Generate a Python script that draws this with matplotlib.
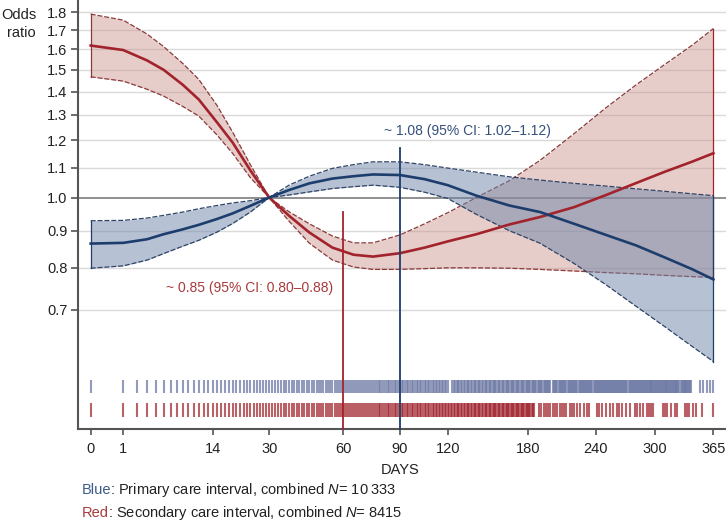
import numpy as np
import matplotlib
matplotlib.use('Agg')
import matplotlib.pyplot as plt

plt.rcParams['font.family'] = ['Liberation Sans', 'DejaVu Sans']
plt.rcParams['mathtext.fontset'] = 'custom'
plt.rcParams['mathtext.it'] = 'Liberation Sans:italic'
plt.rcParams['mathtext.rm'] = 'Liberation Sans'

# ========================== data ========================

days = [0, 1, 3, 5, 8, 11, 15, 19, 24, 30, 37, 45, 55, 65, 75, 90, 105, 120,
        140, 165, 190, 220, 250, 280, 310, 340, 365]

# primary care interval (blue): odds ratio and 95% CI
blue_or = [0.864, 0.866, 0.876, 0.890, 0.904, 0.917, 0.934, 0.951, 0.974, 1.000,
           1.024, 1.046, 1.062, 1.070, 1.076, 1.074, 1.060, 1.040, 1.006, 0.975,
           0.955, 0.920, 0.888, 0.859, 0.827, 0.797, 0.771]
blue_hi = [0.929, 0.930, 0.937, 0.945, 0.955, 0.965, 0.975, 0.983, 0.990, 1.000,
           1.040, 1.070, 1.097, 1.110, 1.120, 1.120, 1.110, 1.098, 1.084, 1.068,
           1.057, 1.046, 1.037, 1.028, 1.020, 1.012, 1.006]
blue_lo = [0.799, 0.805, 0.820, 0.837, 0.857, 0.873, 0.896, 0.921, 0.955, 1.000,
           1.008, 1.018, 1.029, 1.035, 1.040, 1.033, 1.017, 0.997, 0.948, 0.900,
           0.865, 0.811, 0.758, 0.708, 0.664, 0.624, 0.594]

# secondary care interval (red)
red_or = [1.620, 1.597, 1.545, 1.500, 1.430, 1.365, 1.270, 1.190, 1.090, 1.000,
          0.944, 0.895, 0.853, 0.834, 0.829, 0.838, 0.853, 0.870, 0.890, 0.918,
          0.940, 0.970, 1.008, 1.047, 1.085, 1.120, 1.151]
red_hi = [1.790, 1.756, 1.680, 1.615, 1.530, 1.455, 1.340, 1.230, 1.110, 1.000,
          0.956, 0.920, 0.885, 0.866, 0.866, 0.888, 0.920, 0.953, 1.000, 1.055,
          1.125, 1.225, 1.330, 1.430, 1.525, 1.620, 1.710]
red_lo = [1.467, 1.447, 1.410, 1.380, 1.335, 1.295, 1.220, 1.150, 1.065, 1.000,
          0.928, 0.865, 0.820, 0.802, 0.796, 0.796, 0.798, 0.800, 0.800, 0.799,
          0.796, 0.792, 0.788, 0.785, 0.781, 0.778, 0.776]

# observed interval lengths (rug): every day is present except these
blue_missing = [121, 122, 200, 272, 327,
                340, 341, 342, 343, 344, 345, 346, 347, 348, 350, 351, 352,
                354, 355, 356, 358, 359, 360, 362, 363, 364]
blue_days = [d for d in range(0, 366) if d not in blue_missing]
red_days = list(range(0, 186)) + [
    189, 191, 193, 195, 197, 199, 201, 203, 205, 207, 209, 211, 213,
    216, 218, 220, 223, 225, 229, 232, 234, 241, 243, 246, 250, 254, 257,
    261, 263, 266, 270, 274, 279, 281, 284, 287, 291, 293, 296, 298,
    308, 310, 313, 317, 321, 324, 332, 335, 337, 341, 345, 352, 365]

x_ticks = [0, 1, 14, 30, 60, 90, 120, 180, 240, 300, 365]
y_ticks = [0.7, 0.8, 0.9, 1.0, 1.1, 1.2, 1.3, 1.4, 1.5, 1.6, 1.7, 1.8]

blue_note = '~ 1.08 (95% CI: 1.02\u20131.12)'
red_note = '~ 0.85 (95% CI: 0.80\u20130.88)'

# ========================== colours ==========================================
red_line = '#a3232c'
red_fill = '#c99189'
red_edge = '#8a3a3a'
blue_line = '#1d3d6d'
blue_fill = '#6f86ab'
blue_edge = '#2f4466'


# square-root scale for the days axis
def fwd(x):
    return np.sign(x) * np.sqrt(np.abs(x))


def inv(y):
    return np.sign(y) * y ** 2


fig = plt.figure(figsize=(7.26, 5.22), dpi=100)
ax = fig.add_axes([0.1074, 0.178, 1 - 0.1074, 0.822])
ax.set_xscale('function', functions=(fwd, inv))
ax.set_yscale('log')
ax.set_xlim(-0.152, 379.9)
ax.set_ylim(0.4795, 1.872)

# gridlines
for v in y_ticks:
    if v == 1.0:
        ax.axhline(v, color='#8f8f8f', lw=1.4, zorder=1)
    else:
        ax.axhline(v, color='#dadada', lw=1.0, zorder=1)

# red band
ax.fill_between(days, red_lo, red_hi, color=red_fill, alpha=0.45, lw=0, zorder=2)
ax.plot(days, red_hi, color=red_edge, lw=0.9, ls=(0, (4, 1.5)), zorder=2)
ax.plot(days, red_lo, color=red_edge, lw=0.9, ls=(0, (4, 1.5)), zorder=2)
ax.plot([0, 0], [red_lo[0], red_hi[0]], color=red_edge, lw=0.9, zorder=2)
ax.plot([365, 365], [red_lo[-1], red_hi[-1]], color=red_line, lw=0.9, zorder=2)

# blue band on top
ax.fill_between(days, blue_lo, blue_hi, color=blue_fill, alpha=0.5, lw=0, zorder=3)
ax.plot(days, blue_hi, color=blue_edge, lw=0.9, ls=(0, (4, 1.5)), zorder=3)
ax.plot(days, blue_lo, color=blue_edge, lw=0.9, ls=(0, (4, 1.5)), zorder=3)
ax.plot([0, 0], [blue_lo[0], blue_hi[0]], color=blue_line, lw=0.9, zorder=3)
ax.plot([365, 365], [blue_lo[-1], blue_hi[-1]], color=blue_line, lw=0.9, zorder=3)

# central estimates
ax.plot(days, red_or, color=red_line, lw=1.9, zorder=4)
ax.plot(days, blue_or, color=blue_line, lw=1.9, zorder=4)

# marker lines at 60 and 90 days
ax.plot([60, 60], [0.4795, 0.955], color=red_line, lw=1.3, zorder=5, clip_on=False)
ax.plot([90, 90], [0.4795, 1.169], color=blue_line, lw=1.3, zorder=5, clip_on=False)
ax.text(133.4, 1.235, blue_note, color='#34507a', fontsize=10, ha='center', va='center')
ax.text(23.9, 0.75, red_note, color='#a83a3c', fontsize=10, ha='center', va='center')

# rug of observed intervals
xt = ax.get_xaxis_transform()
ax.vlines(blue_days, 0.084, 0.114, transform=xt, color='#6f7aa6', alpha=0.75, lw=1.5, zorder=2)
ax.vlines(red_days, 0.028, 0.061, transform=xt, color='#9e2029', alpha=0.7, lw=1.5, zorder=2)

# axes styling
for side in ['top', 'right']:
    ax.spines[side].set_visible(False)
for side in ['left', 'bottom']:
    ax.spines[side].set_color('#555555')
    ax.spines[side].set_linewidth(1.5)
ax.set_yticks(y_ticks)
ax.set_yticklabels(['%.1f' % v for v in y_ticks])
ax.yaxis.set_minor_locator(matplotlib.ticker.NullLocator())
ax.set_xticks(x_ticks)
ax.set_xticklabels([str(v) for v in x_ticks])
ax.xaxis.set_minor_locator(matplotlib.ticker.NullLocator())
ax.tick_params(axis='y', length=5, width=1.2, color='#555555', pad=2.5,
               labelsize=10.5, labelcolor='#222222')
ax.tick_params(axis='x', length=4.5, width=1.2, color='#555555', pad=5,
               labelsize=10.5, labelcolor='#222222')

fig.text(36 / 726, 1 - 24 / 522, 'Odds\nratio', ha='right', va='center',
         multialignment='right', fontsize=10.5, color='#222222', linespacing=1.35)
fig.text(400 / 726, 1 - 470 / 522, 'DAYS', ha='center', va='center',
         fontsize=10.5, color='#222222')

# legend lines: coloured first word, rest in black
renderer = fig.canvas.get_renderer()
for y_px, word, color, rest in [
        (490, 'Blue', '#3d5a8a', ': Primary care interval, combined $\\it{N}$= 10\u2009333'),
        (513, 'Red', '#a83a3c', ': Secondary care interval, combined $\\it{N}$= 8415')]:
    t = fig.text(82 / 726, 1 - y_px / 522, word, color=color, fontsize=10.5,
                 ha='left', va='center')
    bb = t.get_window_extent(renderer=renderer)
    fig.text((bb.x1 - 1.5) / fig.bbox.width, 1 - y_px / 522, rest, color='#222222',
             fontsize=10.5, ha='left', va='center')

plt.savefig('out.png', dpi=100)
